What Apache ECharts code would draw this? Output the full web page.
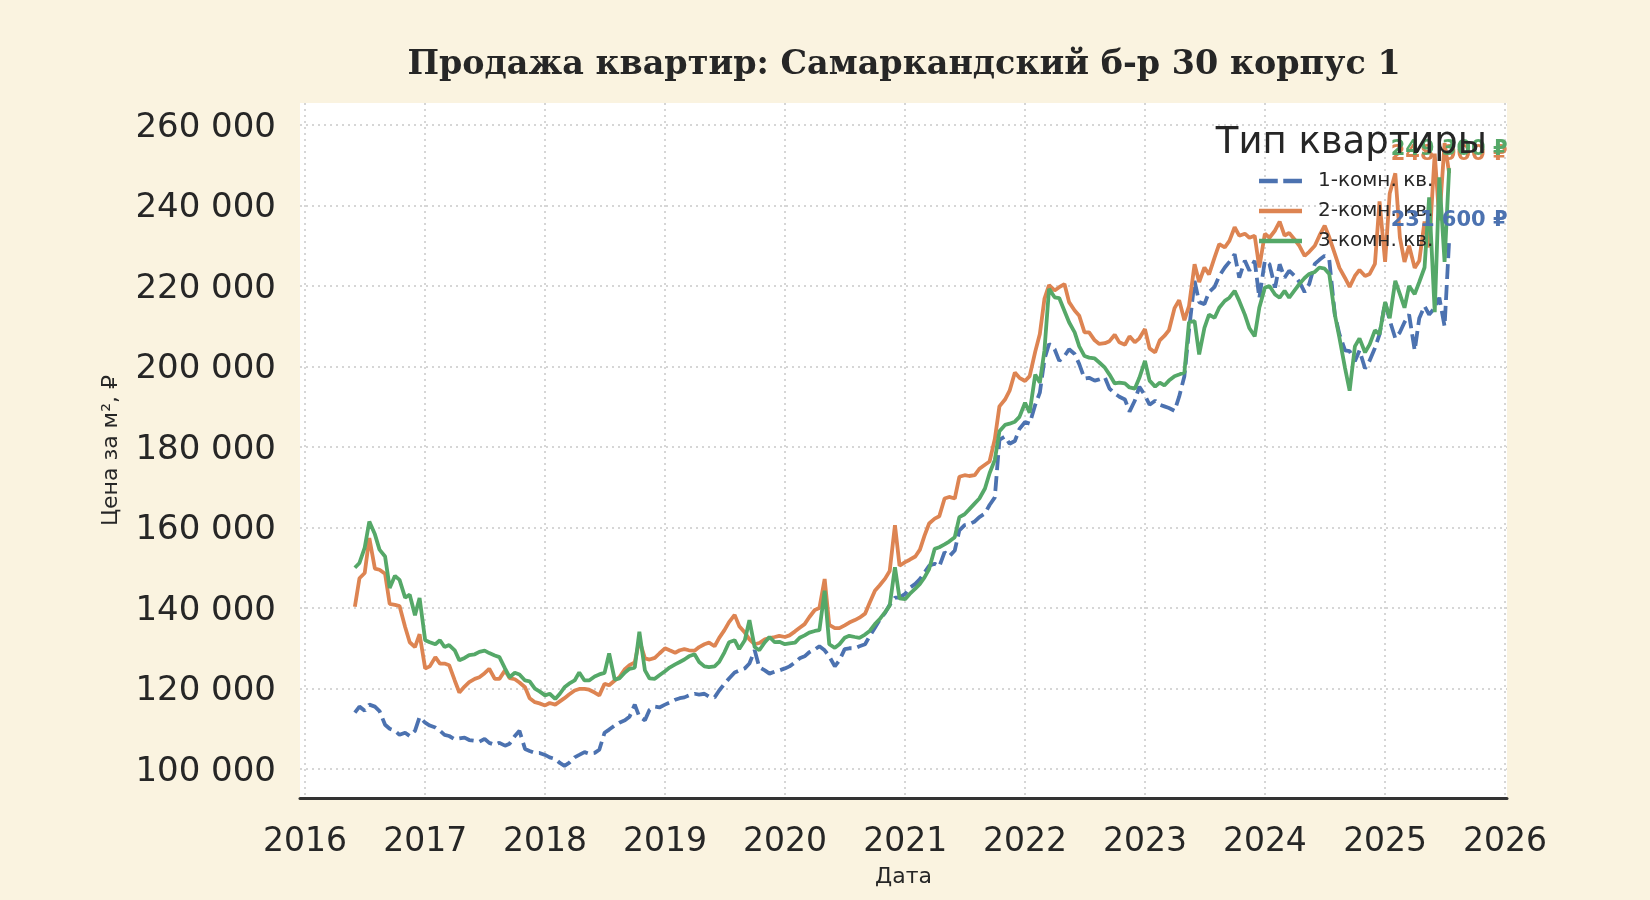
<!DOCTYPE html>
<html>
<head>
<meta charset="utf-8">
<title>Продажа квартир: Самаркандский б-р 30 корпус 1</title>
<script src="https://cdn.jsdelivr.net/npm/echarts@6/dist/echarts.min.js"></script>
<style>
  html, body { margin: 0; padding: 0; background: #faf3e0; }
  #chart { width: 1650px; height: 900px; }
</style>
</head>
<body>
<div id="chart"></div>
<script>
// half-month observation dates
const dates = [
  '2016-06-01','2016-06-15','2016-07-01','2016-07-15','2016-08-01','2016-08-15','2016-09-01','2016-09-15','2016-10-01','2016-10-15','2016-11-01','2016-11-15','2016-12-01','2016-12-15',
  '2017-01-01','2017-01-15','2017-02-01','2017-02-15','2017-03-01','2017-03-15','2017-04-01','2017-04-15','2017-05-01','2017-05-15','2017-06-01','2017-06-15','2017-07-01','2017-07-15','2017-08-01','2017-08-15','2017-09-01','2017-09-15','2017-10-01','2017-10-15','2017-11-01','2017-11-15','2017-12-01','2017-12-15',
  '2018-01-01','2018-01-15','2018-02-01','2018-02-15','2018-03-01','2018-03-15','2018-04-01','2018-04-15','2018-05-01','2018-05-15','2018-06-01','2018-06-15','2018-07-01','2018-07-15','2018-08-01','2018-08-15','2018-09-01','2018-09-15','2018-10-01','2018-10-15','2018-11-01','2018-11-15','2018-12-01','2018-12-15',
  '2019-01-01','2019-01-15','2019-02-01','2019-02-15','2019-03-01','2019-03-15','2019-04-01','2019-04-15','2019-05-01','2019-05-15','2019-06-01','2019-06-15','2019-07-01','2019-07-15','2019-08-01','2019-08-15','2019-09-01','2019-09-15','2019-10-01','2019-10-15','2019-11-01','2019-11-15','2019-12-01','2019-12-15',
  '2020-01-01','2020-01-15','2020-02-01','2020-02-15','2020-03-01','2020-03-15','2020-04-01','2020-04-15','2020-05-01','2020-05-15','2020-06-01','2020-06-15','2020-07-01','2020-07-15','2020-08-01','2020-08-15','2020-09-01','2020-09-15','2020-10-01','2020-10-15','2020-11-01','2020-11-15','2020-12-01','2020-12-15',
  '2021-01-01','2021-01-15','2021-02-01','2021-02-15','2021-03-01','2021-03-15','2021-04-01','2021-04-15','2021-05-01','2021-05-15','2021-06-01','2021-06-15','2021-07-01','2021-07-15','2021-08-01','2021-08-15','2021-09-01','2021-09-15','2021-10-01','2021-10-15','2021-11-01','2021-11-15','2021-12-01','2021-12-15',
  '2022-01-01','2022-01-15','2022-02-01','2022-02-15','2022-03-01','2022-03-15','2022-04-01','2022-04-15','2022-05-01','2022-05-15','2022-06-01','2022-06-15','2022-07-01','2022-07-15','2022-08-01','2022-08-15','2022-09-01','2022-09-15','2022-10-01','2022-10-15','2022-11-01','2022-11-15','2022-12-01','2022-12-15',
  '2023-01-01','2023-01-15','2023-02-01','2023-02-15','2023-03-01','2023-03-15','2023-04-01','2023-04-15','2023-05-01','2023-05-15','2023-06-01','2023-06-15','2023-07-01','2023-07-15','2023-08-01','2023-08-15','2023-09-01','2023-09-15','2023-10-01','2023-10-15','2023-11-01','2023-11-15','2023-12-01','2023-12-15',
  '2024-01-01','2024-01-15','2024-02-01','2024-02-15','2024-03-01','2024-03-15','2024-04-01','2024-04-15','2024-05-01','2024-05-15','2024-06-01','2024-06-15','2024-07-01','2024-07-15','2024-08-01','2024-08-15','2024-09-01','2024-09-15','2024-10-01','2024-10-15','2024-11-01','2024-11-15','2024-12-01','2024-12-15',
  '2025-01-01','2025-01-15','2025-02-01','2025-02-15','2025-03-01','2025-03-15','2025-04-01','2025-04-15','2025-05-01','2025-05-15','2025-06-01','2025-06-15','2025-07-01','2025-07-15'
];

// price per m2, rubles
const oneRoom = [
  114000,115500,114500,116000,115500,114400,111000,110000,109500,108500,109000,108200,109500,112900,
  111500,110800,110300,109500,108500,108200,107400,107600,107800,107200,107000,106800,107500,106500,106000,106500,105800,106300,108200,109500,105000,104500,104000,104000,
  103500,102900,102500,101500,100800,101500,102900,103500,104200,103800,104000,104800,109000,109800,110800,111500,112100,113000,116000,113000,112100,114700,115500,115300,
  116000,116500,117200,117600,117800,118300,118700,118500,118700,118000,117800,119500,121200,122500,124000,124500,125000,126200,129500,125300,124500,123700,124200,124500,
  125000,125500,126500,127500,128000,129000,129700,130500,129500,128000,125500,127000,129800,130000,130000,130500,131000,133000,135100,137000,138800,140800,142600,142600,
  143500,145000,146000,147200,148800,150500,151000,150300,153900,152800,154300,159300,160600,160800,161500,162600,163500,165600,167500,181800,182600,180800,181500,184500,
  186200,185800,190500,193500,201800,205600,204300,201400,202600,204300,203100,200600,197000,197200,196500,196800,197300,194500,193300,192500,191800,188800,191500,195000,
  192800,190500,191500,190500,190100,189700,189000,192500,197600,209000,221300,216000,215500,218500,219800,222500,224600,226000,227900,222100,226300,223800,226300,217000,
  226300,225400,219600,225400,222100,223800,222500,221000,218500,220500,225500,226500,227500,226500,212900,208000,204000,203800,201300,204000,199500,201500,204600,208000,
  216000,211500,207000,208500,211000,212900,204000,212000,215000,212900,214600,217100,210000,231600
];
const twoRoom = [
  140300,147400,148700,157400,149800,149500,148500,141000,140800,140500,135300,131500,130300,133500,
  125000,125500,127800,126200,126200,125800,122000,119000,120500,121600,122400,122800,123800,124900,122400,122400,124500,122600,122300,121500,120300,117600,116600,116300,
  115800,116400,116000,116800,117600,118500,119500,119900,119900,119700,119000,118300,121200,120800,122000,122800,124800,125800,126500,132000,127500,127200,127600,128700,
  130000,129500,128900,129500,129800,129500,129400,130300,131000,131400,130500,132600,134500,136500,138300,135500,133900,132200,131000,131300,132200,132500,132800,133100,
  132800,133200,134200,135100,136000,137700,139500,140000,147200,135800,135000,135000,135700,136400,137000,137600,138600,141300,144300,145600,147300,149200,160600,150500,
  151400,152000,152800,154500,158000,161000,162200,162800,167200,167600,167200,172600,173000,172800,173000,174600,175600,176400,182000,190100,191800,194000,198500,197200,
  196400,197600,203700,208100,216800,220200,218900,219700,220500,216000,213900,212600,208500,208500,206500,205600,205800,206300,207900,206000,205400,207500,206000,207000,
  209300,204500,203500,206500,207600,209000,214500,216500,211500,215000,225400,221000,224600,222900,227100,230400,229600,231200,234600,232500,233000,232000,232500,224600,
  233000,232000,233800,236000,232500,233200,231500,230000,227500,228500,230000,232500,235000,232100,228000,224500,222000,219800,222500,224000,222500,223000,225500,241000,
  226000,243000,248000,232000,226000,230000,224500,226300,236000,229600,252900,236300,255500,248000
];
const threeRoom = [
  150000,151200,155000,161500,158300,154500,152800,145000,148000,147000,142600,143300,138200,142500,
  132000,131500,131000,132000,130300,130800,129500,127000,127600,128300,128500,129100,129400,128800,128200,127800,125000,122800,123900,123500,122000,121800,120000,119300,
  118300,118700,117400,118700,120300,121200,122000,124000,122000,122000,123000,123500,123900,128700,122200,122500,124000,124900,125200,134100,124500,122500,122400,123300,
  124300,125200,126000,126600,127200,128000,128500,126600,125500,125300,125500,126600,129000,131500,132000,129800,132000,137000,130300,129500,131500,132800,131500,131600,
  131000,131200,131400,132600,133200,133900,134300,134500,144300,131000,130100,131000,132600,133100,132800,132600,133400,134300,136000,137200,139000,140600,150100,142400,
  142200,143500,144800,146000,147600,149700,154700,155100,155800,156500,157600,162600,163300,164500,166000,167200,169700,173500,176800,183900,185500,185800,186300,187500,
  191000,188500,198000,196000,204000,219300,217200,217000,213800,211000,208500,205000,202600,202200,202000,201000,199700,198000,195800,196000,195800,194800,194500,197200,
  201400,196500,195000,196000,195300,196500,197600,198000,198500,211000,211300,203000,209600,212900,212100,214600,216300,217100,218800,216300,212900,209500,207500,214600,
  219600,220000,217900,217100,218800,217100,219000,220500,222000,223000,223500,224600,224300,223000,212900,207100,199600,194000,205000,207000,203500,205500,209000,208000,
  216000,212000,221300,218000,214600,220000,218000,221000,224600,242000,213500,247000,226000,249300
];

const seriesNames = ['1-комн. кв.', '2-комн. кв.', '3-комн. кв.'];
const seriesColors = ['#4c72b0', '#dd8452', '#55a868'];
const yTicks = [100000, 120000, 140000, 160000, 180000, 200000, 220000, 240000, 260000];
const xTicks = ['2016-01-01','2017-01-01','2018-01-01','2019-01-01','2020-01-01','2021-01-01',
                '2022-01-01','2023-01-01','2024-01-01','2025-01-01','2026-01-01'];

function spaced(v) {
    return String(Math.round(v)).replace(/\B(?=(\d{3})+(?!\d))/g, ' ');
}

function makeSeries(name, values, color, dashed) {
    let pairs = dates.map((d, i) => [Date.parse(d), values[i]]);
    let last = pairs[pairs.length - 1];
    return {
        name: name,
        type: 'line',
        data: pairs,
        symbol: 'none',
        showSymbol: false,
        lineStyle: { color: color, width: 3.8, type: dashed ? [15, 6] : 'solid' },
        itemStyle: { color: color },
        markPoint: {
            symbol: 'circle',
            symbolSize: 1,
            silent: true,
            itemStyle: { color: 'rgba(0,0,0,0)' },
            label: {
                show: true,
                position: 'inside',
                offset: [0, -19],
                formatter: p => spaced(p.value) + ' ₽',
                color: color,
                fontFamily: 'DejaVu Sans',
                fontWeight: 'bold',
                fontSize: 21
            },
            data: [{ coord: last, value: last[1] }]
        }
    };
}

let dom = document.getElementById('chart');
let myChart = echarts.init(dom, null, { renderer: 'canvas' });

const textColor = '#262626';
const gridLine = { show: true, lineStyle: { color: '#d6d6d6', width: 2, type: [2, 4] } };

option = {
    animation: false,
    backgroundColor: '#faf3e0',
    title: [
        {
            text: 'Продажа квартир: Самаркандский б-р 30 корпус 1',
            left: 899,
            top: 44,
            textAlign: 'center',
            textStyle: { fontFamily: 'DejaVu Serif', fontWeight: 'bold', fontSize: 33.4, color: textColor }
        },
        {
            text: 'Тип квартиры',
            left: 1482,
            top: 120,
            textAlign: 'right',
            textStyle: { fontFamily: 'DejaVu Sans', fontWeight: 'normal', fontSize: 37, color: textColor }
        }
    ],
    legend: {
        data: [
            { name: seriesNames[0], icon: 'path://M0 0H17V4H0Z M22 0H39V4H22Z' },
            { name: seriesNames[1], icon: 'rect' },
            { name: seriesNames[2], icon: 'rect' }
        ],
        orient: 'vertical',
        left: 1259,
        top: 171,
        padding: 0,
        itemWidth: 43,
        itemHeight: 4.4,
        itemGap: 10,
        textStyle: { fontFamily: 'DejaVu Sans', fontSize: 20, color: textColor, padding: [0, 0, 0, 11] }
    },
    grid: {
        left: 300,
        top: 103,
        width: 1207,
        height: 695,
        show: true,
        backgroundColor: '#ffffff',
        borderWidth: 0
    },
    xAxis: {
        type: 'value',
        min: Date.parse('2015-12-17'),
        max: Date.parse('2026-01-07'),
        name: 'Дата',
        nameLocation: 'middle',
        nameGap: 68,
        nameTextStyle: { fontFamily: 'DejaVu Sans', fontSize: 22, color: textColor },
        axisLine: { show: true, onZero: false, lineStyle: { color: '#333333', width: 3 } },
        axisTick: { show: false, customValues: xTicks.map(d => Date.parse(d)) },
        axisLabel: {
            customValues: xTicks.map(d => Date.parse(d)),
            margin: 28,
            fontFamily: 'DejaVu Sans',
            fontSize: 33,
            color: textColor,
            formatter: v => String(new Date(v).getUTCFullYear())
        },
        splitLine: gridLine
    },
    yAxis: {
        type: 'value',
        min: 92800,
        max: 265470,
        name: 'Цена за м², ₽',
        nameLocation: 'middle',
        nameGap: 178,
        nameTextStyle: { fontFamily: 'DejaVu Sans', fontSize: 22, color: textColor },
        axisLine: { show: false },
        axisTick: { show: false, customValues: yTicks },
        axisLabel: {
            customValues: yTicks,
            margin: 24,
            verticalAlign: 'top',
            lineHeight: 6,
            fontFamily: 'DejaVu Sans',
            fontSize: 34,
            color: textColor,
            formatter: v => spaced(v)
        },
        splitLine: gridLine
    },
    series: [
        makeSeries(seriesNames[0], oneRoom, seriesColors[0], true),
        makeSeries(seriesNames[1], twoRoom, seriesColors[1], false),
        makeSeries(seriesNames[2], threeRoom, seriesColors[2], false)
    ]
};

myChart.setOption(option);
window.addEventListener('resize', myChart.resize);
</script>
</body>
</html>
